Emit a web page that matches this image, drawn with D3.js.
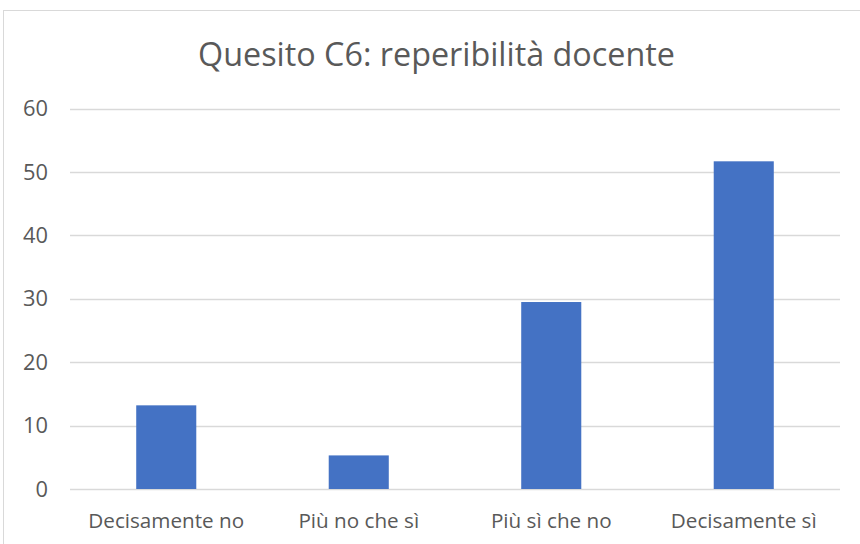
<!DOCTYPE html>
<html>
<head>
<meta charset="utf-8">
<script src="https://cdn.jsdelivr.net/npm/d3@7"></script>
<style>
  html, body { margin: 0; padding: 0; background: #fff; }
  svg { display: block; }
  text { font-family: "Open Sans", "Noto Sans", sans-serif; fill: #595959; }
</style>
</head>
<body>
<svg id="chart" width="860" height="544"></svg>
<script>
// Survey answers and how many respondents chose each one
const categories = ["Decisamente no", "Più no che sì", "Più sì che no", "Decisamente sì"];
const values = [13.2, 5.3, 29.5, 51.7];
const yTicks = [0, 10, 20, 30, 40, 50, 60];
const title = "Quesito C6: reperibilità docente";

const svg = d3.select("#chart");
const W = 860, H = 544;
const plot = { left: 70, right: 840, top: 108.7, bottom: 489 };

// Chart frame
svg.append("rect")
  .attr("x", 3.5).attr("y", 10.5)
  .attr("width", W + 20).attr("height", H + 20)
  .attr("fill", "#fff").attr("stroke", "#D9D9D9").attr("stroke-width", 1);

const x = d3.scaleBand().domain(categories)
  .range([plot.left, plot.right]).paddingInner(0.688).paddingOuter(0.344);
const y = d3.scaleLinear().domain([0, 60]).range([plot.bottom, plot.top]);

// Fit a text element's font size to a target width
function fitWidth(sel, target) {
  const node = sel.node();
  const fs = parseFloat(sel.attr("font-size"));
  const w = node.getComputedTextLength();
  sel.attr("font-size", fs * target / w);
}

// Horizontal gridlines
svg.append("g").selectAll("line").data(yTicks).join("line")
  .attr("x1", plot.left).attr("x2", plot.right)
  .attr("y1", d => Math.round(y(d)) + 0.5).attr("y2", d => Math.round(y(d)) + 0.5)
  .attr("stroke", "#D9D9D9").attr("stroke-width", 1.3);

// Y axis labels
const yAxis = d3.axisLeft(y).tickValues(yTicks).tickSize(0).tickPadding(0);
const gy = svg.append("g").attr("transform", `translate(48,0)`).call(yAxis);
gy.select(".domain").remove();
gy.selectAll("text")
  .attr("font-size", 20)
  .attr("fill", "#595959")
  .style("font-family", '"Open Sans", "Noto Sans", sans-serif');
const ySample = gy.selectAll("text").filter(d => d === 60);
const yW = ySample.node().getComputedTextLength();
gy.selectAll("text").attr("font-size", 20 * 25 / yW);

// Bars
svg.append("g").selectAll("rect").data(values).join("rect")
  .attr("x", (d, i) => x(categories[i]))
  .attr("width", x.bandwidth())
  .attr("y", d => y(d))
  .attr("height", d => y(0) - y(d))
  .attr("fill", "#4472C4");

// X axis labels
const xAxis = d3.axisBottom(x).tickSize(0).tickPadding(0);
const gx = svg.append("g").attr("transform", `translate(0,${plot.bottom})`).call(xAxis);
gx.select(".domain").remove();
gx.selectAll("text")
  .attr("font-size", 20)
  .attr("dy", null)
  .attr("y", 38.5)
  .attr("fill", "#595959")
  .style("font-family", '"Open Sans", "Noto Sans", sans-serif');
const xSample = gx.selectAll("text").filter(d => d === categories[0]);
const xW = xSample.node().getComputedTextLength();
gx.selectAll("text").attr("font-size", 20 * 156 / xW);

// Title
const t = svg.append("text")
  .attr("x", 436.5).attr("y", 66)
  .attr("text-anchor", "middle")
  .attr("font-size", 30)
  .text(title);
fitWidth(t, 477);
</script>
</body>
</html>
